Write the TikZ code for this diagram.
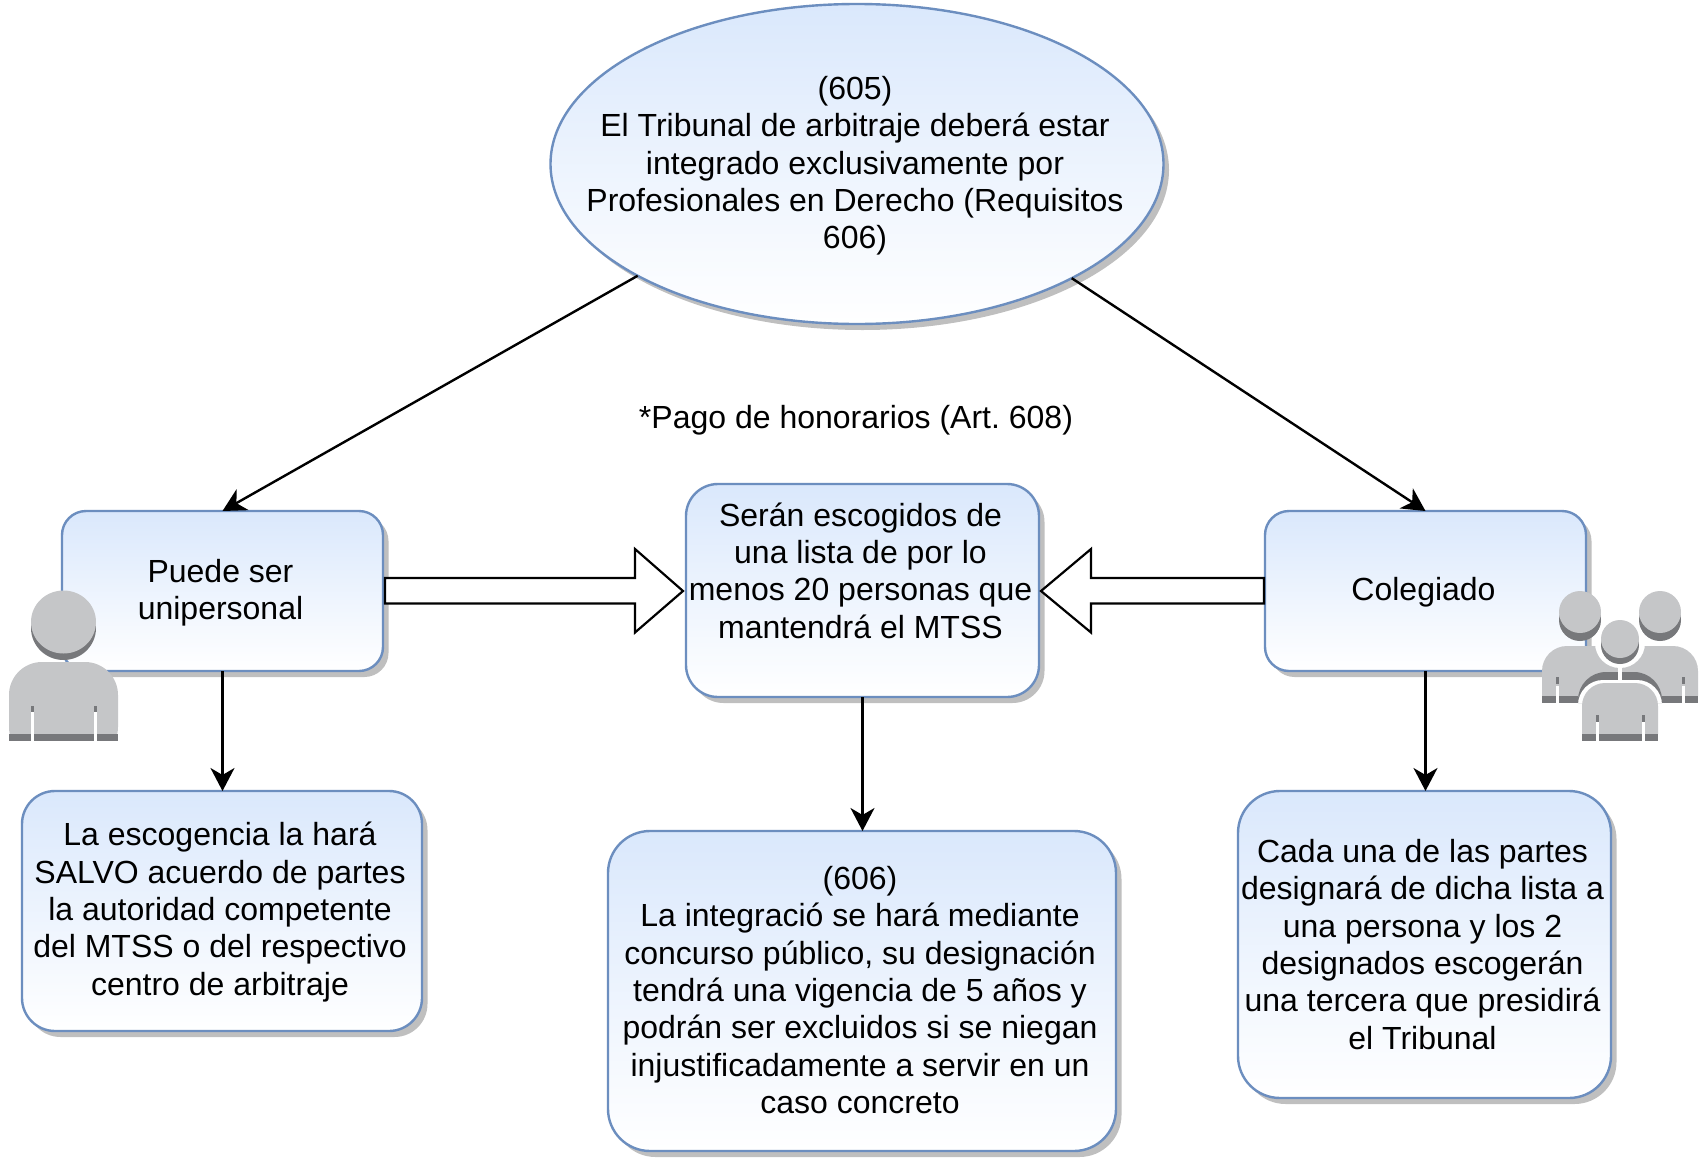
\documentclass[tikz,border=0pt]{standalone}
\usepackage{fontspec}
\setmainfont{Liberation Sans}
\usetikzlibrary{shapes.geometric,arrows.meta,shadows}
\definecolor{bluefill}{HTML}{DAE8FC}
\definecolor{blueline}{HTML}{6C8EBF}
\definecolor{iconlight}{HTML}{C5C6C8}
\definecolor{icondark}{HTML}{77787B}
\tikzset{
  base/.style={draw=blueline,line width=2.4pt,top color=bluefill,bottom color=white,
    inner sep=0pt,outer sep=0pt,
    drop shadow={shadow xshift=5.5pt,shadow yshift=-6pt,fill=black,opacity=.25}},
  box/.style={base,rectangle},
  lab/.style={align=center,xshift=-2pt,text=black},
  edge/.style={draw=black,line width=2.4pt,-{Stealth[length=23pt,width=24pt,inset=7pt]}},
  block/.style={draw=black,line width=2.2pt,fill=white,line join=miter},
  light/.style={fill=iconlight,draw=none},
  dark/.style={fill=icondark,draw=none},
  gap/.style={fill=white,draw=none}
}
\begin{document}
\begin{tikzpicture}[x=1pt,y=-1pt,font=\fontsize{32}{37.3}\selectfont\frenchspacing]
\useasboundingbox[fill=white] (0,0) rectangle (1706,1162);

\node[base,ellipse,minimum width=613pt,minimum height=320pt,
  label={[lab,yshift=-2pt]center:(605)\\El Tribunal de arbitraje deberá estar\\integrado exclusivamente por\\Profesionales en Derecho (Requisitos\\606)}]
  (top) at (857,164) {};

\node[lab,xshift=2pt] (pago) at (856,420) {*Pago de honorarios (Art. 608)};

\node[box,rounded corners=24pt,minimum width=321pt,minimum height=160pt,
  label={[lab,yshift=-2pt]center:Puede ser\\unipersonal}] (uni) at (222.5,591) {};
\node[box,rounded corners=32pt,minimum width=353pt,minimum height=213pt,
  label={[lab,yshift=20pt]center:Serán escogidos de\\una lista de por lo\\menos 20 personas que\\mantendrá el MTSS}] (lista) at (862.5,590.5) {};
\node[box,rounded corners=24pt,minimum width=321pt,minimum height=160pt,
  label={[lab,yshift=-1pt]center:Colegiado}] (cole) at (1425.5,591) {};

\node[box,rounded corners=33pt,minimum width=400pt,minimum height=240pt,
  label={[lab,yshift=-1pt]center:La escogencia la hará\\SALVO acuerdo de partes\\la autoridad competente\\del MTSS o del respectivo\\centro de arbitraje}] (escog) at (222,911) {};
\node[box,rounded corners=42pt,minimum width=508pt,minimum height=320pt,
  label={[lab,yshift=1pt]center:(606)\\La integració se hará mediante\\concurso público, su designación\\tendrá una vigencia de 5 años y\\podrán ser excluidos si se niegan\\injustificadamente a servir en un\\caso concreto}] (integ) at (862,991) {};
\node[box,rounded corners=42pt,minimum width=373pt,minimum height=307pt,
  label={[lab]center:Cada una de las partes\\designará de dicha lista a\\una persona y los 2\\designados escogerán\\una tercera que presidirá\\el Tribunal}] (desig) at (1424.5,944.5) {};

% connectors
\draw[edge] (top.207.7) -- (uni.north);
\draw[edge] (top.332.1) -- (cole.north);
\draw[edge] (uni.south) -- (uni.south |- escog.north);
\draw[edge] (lista.south) -- (lista.south |- integ.north);
\draw[edge] (cole.south) -- (cole.south |- desig.north);

\draw[block] (uni.east) ++(2,-13) -- ++(250,0) -- ++(0,-29) -- ++(48,42) -- ++(-48,41.5) -- ++(0,-29) -- ++(-250,0) -- cycle;
\draw[block] (cole.west) ++(-1,-13) -- ++(-173,0) -- ++(0,-29) -- ++(-50,42) -- ++(50,41.5) -- ++(0,-29) -- ++(173,0) -- cycle;

% single person icon
\fill[dark] (63.5,628) circle[x radius=32.5pt,y radius=32pt];
\fill[light] (63.5,622) circle[x radius=32.5pt,y radius=31.5pt];
\fill[light,rounded corners=33pt] (9,760) -- (9,662) -- (118,662) -- (118,760) -- cycle;
\fill[gap] (0,741) rectangle (130,770);
\fill[dark] (9,734) rectangle (118,741);
\fill[gap] (31,712) rectangle (34,741);
\fill[gap] (94,712) rectangle (97,741);
\fill[dark] (31,706) rectangle (34,712);
\fill[dark] (94,706) rectangle (97,712);

% group icon: rear figures
\fill[light] (1542,696) [rounded corners=25pt] -- (1542,646) -- (1698,646) [sharp corners] -- (1698,696) -- cycle;
\fill[dark] (1542,696) rectangle (1578,703);
\fill[dark] (1662,696) rectangle (1698,703);
\fill[gap] (1556,686) rectangle (1559,703);
\fill[gap] (1682,686) rectangle (1685,703);
\fill[dark] (1556,677) rectangle (1559,684);
\fill[dark] (1682,677) rectangle (1685,684);
\fill[dark] (1580,620) circle[radius=21pt];
\fill[light] (1580,612) circle[radius=21pt];
\fill[dark] (1660,620) circle[radius=21pt];
\fill[light] (1660,612) circle[radius=21pt];
% group icon: white ring and shoulders
\fill[gap] (1620,643) circle[radius=25pt];
\fill[dark] (1578,703) [rounded corners=28pt] -- (1578,672) -- (1662,672) [sharp corners] -- (1662,703) -- cycle;
\fill[gap] (1578,703) [rounded corners=25pt] -- (1578,680) -- (1662,680) [sharp corners] -- (1662,703) -- cycle;
\fill[gap] (1618,668) rectangle (1622,682);
\fill[dark] (1620,645) circle[radius=19pt];
\fill[light] (1620,639) circle[radius=19pt];
\fill[light] (1582,734) [rounded corners=23pt] -- (1582,683) -- (1658,683) [sharp corners] -- (1658,734) -- cycle;
\fill[dark] (1582,734) rectangle (1658,741);
\fill[gap] (1596,722) rectangle (1599,741);
\fill[gap] (1642,722) rectangle (1645,741);
\fill[dark] (1596,715) rectangle (1599,722);
\fill[dark] (1642,715) rectangle (1645,722);
\end{tikzpicture}
\end{document}
